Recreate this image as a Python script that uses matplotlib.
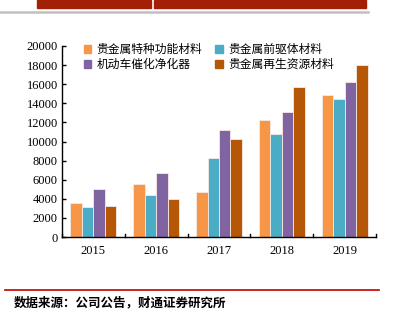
import matplotlib
matplotlib.use("Agg")
import matplotlib.pyplot as plt
from matplotlib.patches import Rectangle
from matplotlib.lines import Line2D
import numpy as np

years = ["2015", "2016", "2017", "2018", "2019"]
series_names = ["贵金属特种功能材料", "贵金属前驱体材料", "机动车催化净化器", "贵金属再生资源材料"]
special = [3600, 5500, 4750, 12200, 14900]
precursor = [3100, 4350, 8300, 10800, 14400]
catalyst = [5000, 6650, 11200, 13100, 16200]
recycle = [3200, 4000, 10300, 15700, 18000]
yticks = [0, 2000, 4000, 6000, 8000, 10000, 12000, 14000, 16000, 18000, 20000]
source = "数据来源：公司公告，财通证券研究所"

colors = ["#F79646", "#4BACC6", "#8064A2", "#B65708"]

W, H = 394, 322
fig = plt.figure(figsize=(W / 100, H / 100), dpi=100)
ax = fig.add_axes([62 / W, 1 - 237 / H, (376 - 62) / W, (237 - 46) / H])

x = np.arange(len(years))
bw = 0.183
data = [special, precursor, catalyst, recycle]
for i, (vals, c, name) in enumerate(zip(data, colors, series_names)):
    ax.bar(x + (i - 1.5) * bw, vals, width=bw, color=c, edgecolor="#F5EAE4",
           linewidth=0.6, label=name, zorder=2)

ax.set_xlim(-0.5, len(years) - 0.5)
ax.set_ylim(0, 20000)
ax.set_yticks(yticks)
ax.set_yticklabels([str(v) for v in yticks], family="Liberation Serif", fontsize=9)
ax.set_xticks(x)
ax.set_xticklabels(years, family="Liberation Serif", fontsize=9)
ax.tick_params(axis="x", length=0, pad=6)
ax.tick_params(axis="y", direction="in", length=3, width=1, pad=3)
for b in np.arange(-0.5, len(years), 1.0):
    ax.plot([b, b], [0, 280], color="black", lw=1, clip_on=False, zorder=3)
for s in ["top", "right"]:
    ax.spines[s].set_visible(False)
ax.spines["left"].set_linewidth(1)
ax.spines["bottom"].set_linewidth(1)

handles = [Rectangle((0, 0), 1, 1, color=c) for c in colors]
order = [0, 2, 1, 3]
leg = ax.legend([handles[i] for i in order], [series_names[i] for i in order],
                ncol=2, loc="upper left", bbox_to_anchor=(0.035, 1.07),
                frameon=False, handlelength=0.65, handleheight=0.65,
                handletextpad=0.45, columnspacing=1.1, labelspacing=0.15,
                prop={"family": ["Noto Sans CJK SC", "DejaVu Sans"], "size": 8.5})

# decorations
fig.patches.append(Rectangle((37 / W, 1 - 8 / H), (151 - 37) / W, 8 / H,
                             transform=fig.transFigure, color="#A31F05", zorder=0))
fig.patches.append(Rectangle((154 / W, 1 - 8 / H), (366 - 154) / W, 8 / H,
                             transform=fig.transFigure, color="#A31F05", zorder=0))
fig.lines.append(Line2D([0, 368 / W], [1 - 12 / H, 1 - 12 / H], transform=fig.transFigure,
                        color="#C0C0C0", lw=1.8))
fig.lines.append(Line2D([5 / W, 379 / W], [1 - 290 / H, 1 - 290 / H], transform=fig.transFigure,
                        color="#C00000", lw=1.2))
fig.text(14 / W, 1 - 303 / H, source, ha="left", va="center", fontsize=9, fontweight="bold",
         family=["Noto Sans CJK SC", "DejaVu Sans"])

fig.savefig("out.png", dpi=100)
